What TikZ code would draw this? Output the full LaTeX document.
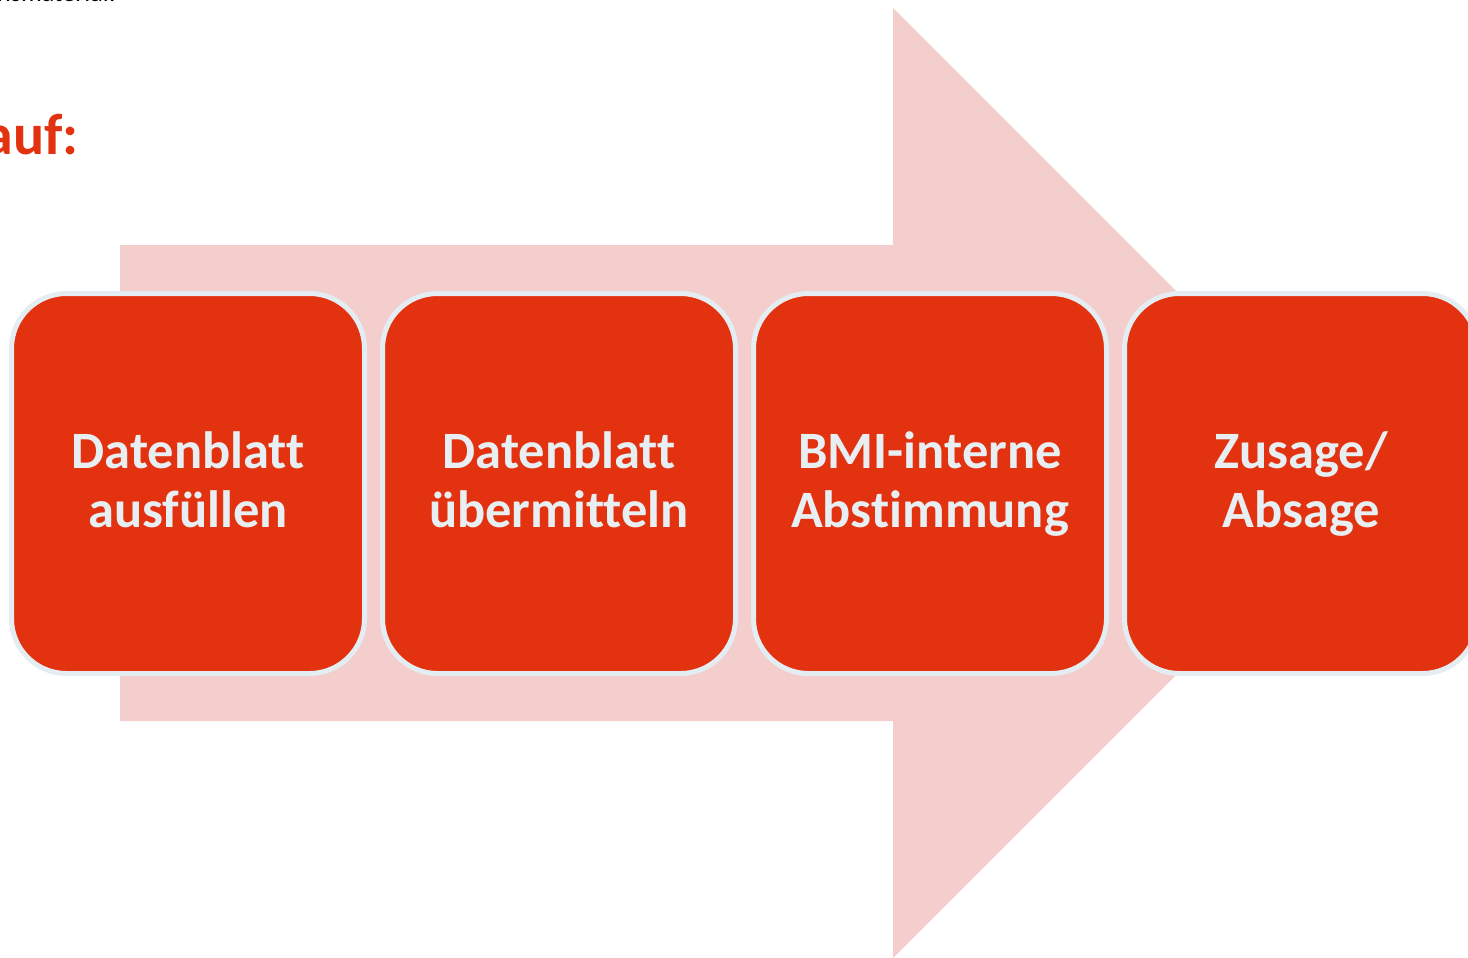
\documentclass[tikz,border=0pt]{standalone}
\usepackage{fontspec}
\setmainfont{Carlito}[Ligatures=NoCommon]
\definecolor{boxred}{RGB}{227,50,15}
\definecolor{arrowpink}{RGB}{244,205,205}
\definecolor{rimblue}{RGB}{228,237,242}
\definecolor{txtlight}{RGB}{232,239,243}
\newcommand{\twolines}[2]{\begin{tabular}[t]{@{}c@{}}#1\\#2\end{tabular}}
\begin{document}
\begin{tikzpicture}[x=1pt,y=-1pt,
  stepbox/.style={draw=rimblue, line width=5pt, fill=boxred, rounded corners=55pt},
  steplabel/.style={text=txtlight, font=\fontsize{52.5}{59}\selectfont\bfseries, inner sep=0pt, anchor=base},
]
\useasboundingbox (0,0) rectangle (1468,958);
\clip (0,0) rectangle (1468,958);
% cut-off texts at the top left
\node[anchor=base east, inner sep=0pt, font=\fontsize{26}{30}\selectfont] (hdr) at (116,2) {Informationsmaterial:};
\node[anchor=base east, inner sep=0pt, text=boxred, font=\fontsize{58}{66}\selectfont\bfseries] (title) at (79,154) {Ablauf:};
% big background arrow
\fill[arrowpink] (120,245) -- (893,245) -- (893,8) -- (1368,483) -- (893,958) -- (893,721) -- (120,721) -- cycle;
% step boxes
\foreach \i/\x in {1/11.5,2/382.5,3/753.5,4/1124.5}{
  \draw[stepbox] (\x,293.5) rectangle ++(353,380);
  \coordinate (c\i) at (\x+176.5,468);
}
\node[steplabel] (s1) at (c1) {\twolines{Datenblatt}{ausfüllen}};
\node[steplabel] (s2) at (c2) {\twolines{Datenblatt}{übermitteln}};
\node[steplabel] (s3) at (c3) {\twolines{BMI-interne}{Abstimmung}};
\node[steplabel] (s4) at (c4) {\twolines{Zusage/}{Absage}};
\end{tikzpicture}
\end{document}
